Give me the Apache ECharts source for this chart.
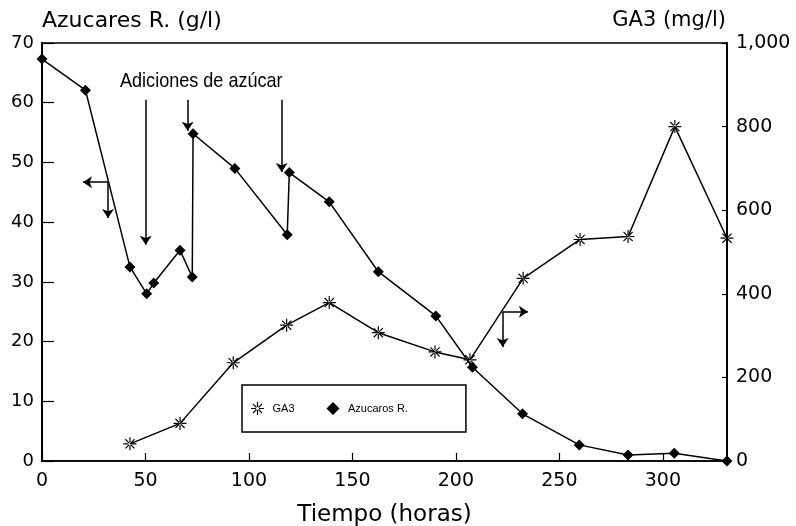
<!DOCTYPE html>
<html>
<head>
<meta charset="utf-8">
<script src="https://cdn.jsdelivr.net/npm/echarts@6/dist/echarts.min.js"></script>
<style>html,body{margin:0;padding:0;background:#fff}#c{width:796px;height:526px}</style>
</head>
<body>
<div id="c"></div>
<script>
// ---- data ----
const hoursSugar = [0, 21, 42.5, 50.6, 54, 66.7, 72.6, 73, 93.2, 118.5, 119.5, 138.8, 162.5, 190.3, 208, 232.2, 259.6, 283.2, 305.5, 331];
const sugar      = [67.3, 62.1, 32.5, 28.0, 29.8, 35.3, 30.8, 54.8, 49.0, 37.9, 48.3, 43.4, 31.7, 24.3, 15.7, 7.9, 2.7, 1.0, 1.3, 0];
const hoursGA3   = [42.5, 66.7, 92.4, 118.2, 138.8, 162.5, 189.9, 206.8, 232.5, 260, 283.2, 305.8, 331];
const ga3        = [41, 90, 235, 325, 379, 307, 261, 242, 437, 530, 537, 800, 533];
const xTicks = [0, 50, 100, 150, 200, 250, 300];
const leftTicks = [0, 10, 20, 30, 40, 50, 60, 70];
const rightTicks = [0, 200, 400, 600, 800, 1000];
// sugar-addition arrows [x, yFrom, yTo] in hours / g/l
const additionArrows = [[50.1, 60.5, 36.2], [70.4, 60.5, 55.3], [115.8, 60.5, 48.4]];
// axis-indicator L arrows: corner [x,y], horizontal tip x, vertical tip y
const leftIndicator = {corner: [31.9, 46.7], hx: 19.8, vy: 40.7};
const rightIndicator = {corner: [222.6, 25.0], hx: 234.8, vy: 19.1};

// asterisk symbol path (8 thin spokes with center gap)
function asteriskPath() {
  const c = 10, r1 = 2.2, r2 = 10, h = 0.9;
  let d = '';
  for (let k = 0; k < 8; k++) {
    const a = k * Math.PI / 4, ca = Math.cos(a), sa = Math.sin(a);
    const pts = [
      [c + r1 * ca - h * sa, c + r1 * sa + h * ca],
      [c + r2 * ca - h * sa, c + r2 * sa + h * ca],
      [c + r2 * ca + h * sa, c + r2 * sa - h * ca],
      [c + r1 * ca + h * sa, c + r1 * sa - h * ca]
    ];
    d += 'M' + pts.map(p => p[0].toFixed(2) + ' ' + p[1].toFixed(2)).join(' L') + ' Z ';
  }
  return 'path://' + d;
}
const AST = asteriskPath();
const DIAMOND = 'path://M5 0 L10 5 L5 10 L0 5 Z';

const FONT = "'DejaVu Sans', sans-serif";
const SANS = "'Liberation Sans', Arial, sans-serif";

const arrowLines = [];
additionArrows.forEach(a => arrowLines.push([{coord: [a[0], a[1]], symbol: 'none'}, {coord: [a[0], a[2]], symbol: 'arrow'}]));
[leftIndicator, rightIndicator].forEach(ind => {
  arrowLines.push([{coord: ind.corner, symbol: 'none'}, {coord: [ind.hx, ind.corner[1]], symbol: 'arrow'}]);
  arrowLines.push([{coord: ind.corner, symbol: 'none'}, {coord: [ind.corner[0], ind.vy], symbol: 'arrow'}]);
});

const chart = echarts.init(document.getElementById('c'), null, {renderer: 'canvas'});
chart.setOption({
  animation: false,
  backgroundColor: '#fff',
  grid: {left: 42, right: 69, top: 43, bottom: 65, outerBoundsMode: 'none', containLabel: false,
    show: true, borderColor: '#000', borderWidth: 1.5},
  xAxis: {
    type: 'value', min: 0, max: 331, interval: 50,
    name: 'Tiempo (horas)', nameLocation: 'middle', nameGap: 43,
    nameTextStyle: {fontFamily: FONT, fontSize: 23, color: '#000'},
    axisLine: {lineStyle: {color: '#000', width: 1.5}},
    axisTick: {inside: true, length: 8, lineStyle: {color: '#000', width: 1.2}},
    axisLabel: {fontFamily: FONT, fontSize: 19, color: '#000', margin: 11, showMaxLabel: false,
      formatter: v => xTicks.includes(v) ? String(v) : ''},
    splitLine: {show: false}
  },
  yAxis: [{
    type: 'value', min: 0, max: 70, interval: 10, position: 'left',
    axisLine: {show: true, lineStyle: {color: '#000', width: 2}},
    axisTick: {show: true, inside: true, length: 12, lineStyle: {color: '#000', width: 1.2}},
    axisLabel: {fontFamily: FONT, fontSize: 18, color: '#000', margin: 8,
      formatter: v => leftTicks.includes(v) ? String(v) : ''},
    splitLine: {show: false}
  }, {
    type: 'value', min: 0, max: 1000, interval: 200, position: 'right',
    axisLine: {show: true, lineStyle: {color: '#000', width: 2}},
    axisTick: {show: true, inside: true, length: 5, lineStyle: {color: '#000', width: 1.2}},
    axisLabel: {fontFamily: FONT, fontSize: 19, color: '#000', margin: 9,
      formatter: v => rightTicks.includes(v) ? v.toLocaleString('en-US') : ''},
    splitLine: {show: false}
  }],
  legend: {
    left: 242, top: 385, orient: 'horizontal',
    padding: [17, 58, 17, 9], itemGap: 32, itemWidth: 20, itemHeight: 13,
    symbolKeepAspect: true,
    borderColor: '#000', borderWidth: 1.5, backgroundColor: '#fff',
    textStyle: {fontFamily: SANS, fontSize: 11, color: '#000'},
    data: [{name: 'GA3', icon: AST}, {name: 'Azucaros R.', icon: DIAMOND}]
  },
  series: [{
    name: 'Azucaros R.', type: 'line', yAxisIndex: 0,
    data: hoursSugar.map((h, i) => [h, sugar[i]]),
    symbol: 'diamond', symbolSize: 11,
    itemStyle: {color: '#000'},
    lineStyle: {color: '#000', width: 1.5},
    z: 3,
    markLine: {
      silent: true, symbolSize: 9, precision: 2,
      lineStyle: {color: '#000', width: 1.5, type: 'solid'},
      label: {show: false},
      emphasis: {disabled: true},
      data: arrowLines
    }
  }, {
    name: 'GA3', type: 'line', yAxisIndex: 1,
    data: hoursGA3.map((h, i) => [h, ga3[i]]),
    symbol: AST, symbolSize: 13,
    itemStyle: {color: '#000'},
    lineStyle: {color: '#000', width: 1.5},
    z: 4
  }],
  graphic: [
    {type: 'text', left: 42, top: 10, style: {text: 'Azucares R. (g/l)', font: "22px " + FONT, fill: '#000'}},
    {type: 'text', right: 70, top: 10, style: {text: 'GA3 (mg/l)', font: "21px " + FONT, fill: '#000'}},
    {type: 'text', x: 120, y: 71, scaleX: 0.86, style: {text: 'Adiciones de azúcar', font: "21px " + SANS, fill: '#000'}}
  ]
});
</script>
</body>
</html>
